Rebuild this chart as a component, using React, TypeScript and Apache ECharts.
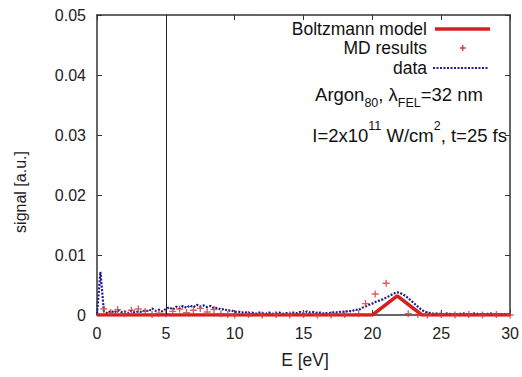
import React, { useEffect, useRef } from "react";
import * as echarts from "echarts";

// Boltzmann model (E [eV], signal)
const boltzE = [0, 20.0, 21.8, 23.6, 30];
const boltzV = [0, 0, 0.0032, 0, 0];

// MD results (E [eV], signal)
const mdE = [0.5, 1, 1.5, 2, 2.5, 3, 3.5, 4, 4.5, 5, 5.5, 6, 6.5, 7, 7.5, 8, 8.5, 9, 9.5, 10, 11, 12, 13, 14, 15, 16, 17, 18, 19, 19.5, 20.2, 21.0, 22.6, 23.3, 24, 25, 26, 27, 28, 29, 30];
const mdV = [0.0010, 0.0004, 0.0009, 0.0002, 0.0008, 0.0010, 0.0006, 0.0001, 0.0003, 0.0002, 0.0006, 0.0010, 0.0004, 0.0008, 0.0011, 0.0005, 0.0009, 0.0002, 0.0001, 0.0000, 0.0001, 0.0000, 0.0001, 0.0000, 0.0001, 0.0000, 0.0000, 0.0001, 0.0002, 0.0019, 0.0035, 0.0053, 0.0002, 0.0001, 0.0000, 0.0001, 0.0000, 0.0001, 0.0000, 0.0001, 0.0000];

// data (E [eV], signal)
const dataE = [0, 0.25, 0.5, 0.75, 1, 1.25, 1.5, 1.75, 2, 2.25, 2.5, 2.75, 3, 3.25, 3.5, 3.75, 4, 4.25, 4.5, 4.75, 5, 5.25, 5.5, 5.75, 6, 6.25, 6.5, 6.75, 7, 7.25, 7.5, 7.75, 8, 8.25, 8.5, 8.75, 9, 9.25, 9.5, 9.75, 10, 10.25, 10.5, 10.75, 11, 11.25, 11.5, 11.75, 12, 12.25, 12.5, 12.75, 13, 13.25, 13.5, 13.75, 14, 14.25, 14.5, 14.75, 15, 15.25, 15.5, 15.75, 16, 16.25, 16.5, 16.75, 17, 17.25, 17.5, 17.75, 18, 18.25, 18.5, 18.75, 19, 19.25, 19.5, 19.75, 20, 20.25, 20.5, 20.75, 21, 21.25, 21.5, 21.75, 22, 22.25, 22.5, 22.75, 23, 23.25, 23.5, 23.75, 24, 24.25, 24.5, 24.75, 25, 25.25, 25.5, 25.75, 26, 26.25, 26.5, 26.75, 27, 27.25, 27.5, 27.75, 28, 28.25, 28.5, 28.75, 29, 29.25, 29.5, 29.75, 30];
const dataV = [0.0002, 0.0072, 0.0006, 0.0003, 0.0007, 0.0004, 0.0008, 0.0005, 0.0006, 0.0003, 0.0007, 0.0004, 0.0006, 0.0005, 0.0008, 0.0006, 0.0011, 0.0007, 0.0009, 0.0006, 0.0010, 0.0013, 0.0009, 0.0014, 0.0011, 0.0015, 0.0012, 0.0016, 0.0013, 0.0017, 0.0014, 0.0016, 0.0013, 0.0015, 0.0011, 0.0012, 0.0009, 0.0010, 0.0007, 0.0008, 0.0005, 0.0006, 0.0004, 0.0005, 0.0003, 0.0004, 0.0002, 0.0004, 0.0003, 0.0002, 0.0004, 0.0002, 0.0003, 0.0004, 0.0002, 0.0003, 0.0002, 0.0004, 0.0003, 0.0005, 0.0003, 0.0006, 0.0004, 0.0005, 0.0003, 0.0004, 0.0002, 0.0004, 0.0003, 0.0005, 0.0004, 0.0006, 0.0005, 0.0007, 0.0006, 0.0009, 0.0008, 0.0012, 0.0014, 0.0017, 0.0019, 0.0022, 0.0024, 0.0026, 0.0029, 0.0032, 0.0035, 0.0038, 0.0037, 0.0034, 0.0030, 0.0025, 0.0020, 0.0015, 0.0010, 0.0006, 0.0004, 0.0003, 0.0002, 0.0003, 0.0001, 0.0002, 0.0003, 0.0001, 0.0002, 0.0001, 0.0003, 0.0002, 0.0001, 0.0002, 0.0003, 0.0001, 0.0002, 0.0001, 0.0003, 0.0002, 0.0001, 0.0002, 0.0001, 0.0002, 0.0001];

const xTicks = { min: 0, max: 30, interval: 5 };
const yTicks = { min: 0, max: 0.05, interval: 0.01 };
const legendNames = ["Boltzmann model", "MD results", "data"];
const xName = "E [eV]";
const yName = "signal [a.u.]";

const FONT = "Liberation Sans, Arial, Helvetica, sans-serif";
const RED = "#d61f1f";
const MDRED = "#d23a3a";
const BLUE = "#1c1c8c";
const AXIS = "#333333";
const PLUS = "path://M4,0L6,0L6,4L10,4L10,6L6,6L6,10L4,10L4,6L0,6L0,4L4,4Z";

export default function App() {
  const ref = useRef<HTMLDivElement>(null);
  useEffect(() => {
    if (!ref.current) return;
    const chart = echarts.init(ref.current, undefined, { renderer: "svg" });
    const zip = (a: number[], b: number[]) => a.map((x, i) => [x, b[i]]);
    const baseAxis = {
      axisLine: { show: true, onZero: false, lineStyle: { color: AXIS, width: 1.5 } },
      axisTick: { show: true, inside: true, length: 5, lineStyle: { color: AXIS, width: 1 } },
      splitLine: { show: false },
    };
    chart.setOption({
      animation: false,
      backgroundColor: "#ffffff",
      textStyle: { fontFamily: FONT },
      grid: { left: 97, right: 10, top: 15, bottom: 62, containLabel: false },
      xAxis: [
        {
          type: "value",
          ...xTicks,
          position: "bottom",
          ...baseAxis,
          axisLabel: { show: true, color: "#222", fontSize: 16, margin: 10, fontFamily: FONT },
        },
        {
          type: "value",
          ...xTicks,
          position: "top",
          ...baseAxis,
          axisLabel: { show: false },
        },
      ],
      yAxis: [
        {
          type: "value",
          ...yTicks,
          position: "left",
          ...baseAxis,
          axisLabel: {
            show: true,
            color: "#222",
            fontSize: 16,
            margin: 11,
            fontFamily: FONT,
            formatter: (v: number) => (v === 0 ? "0" : v.toFixed(2)),
          },
        },
        {
          type: "value",
          ...yTicks,
          position: "right",
          ...baseAxis,
          axisLabel: { show: false },
        },
      ],
      series: [
        {
          name: legendNames[2],
          type: "line",
          data: zip(dataE, dataV),
          showSymbol: false,
          symbol: "none",
          lineStyle: { color: BLUE, width: 2.2, type: [2, 1.5] },
          z: 2,
        },
        {
          name: legendNames[0],
          type: "line",
          data: zip(boltzE, boltzV),
          showSymbol: false,
          symbol: "none",
          lineStyle: { color: RED, width: 3.5 },
          z: 3,
          markLine: {
            silent: true,
            symbol: "none",
            label: { show: false },
            lineStyle: { color: "#222", width: 1, type: "solid" },
            data: [{ xAxis: 5 }],
          },
        },
        {
          name: legendNames[1],
          type: "scatter",
          data: zip(mdE, mdV),
          symbol: PLUS,
          symbolSize: 7,
          itemStyle: { color: MDRED },
          z: 4,
        },
      ],
      graphic: [
        // legend
        { type: "text", x: 427, y: 29, style: { text: legendNames[0], font: `17.5px ${FONT}`, fill: "#111", align: "right", verticalAlign: "middle" } },
        { type: "line", shape: { x1: 435, y1: 29, x2: 490, y2: 29 }, style: { stroke: RED, lineWidth: 3.5 } },
        { type: "text", x: 427, y: 48, style: { text: legendNames[1], font: `17.5px ${FONT}`, fill: "#111", align: "right", verticalAlign: "middle" } },
        { type: "polygon", shape: { points: [[462, 45], [463.4, 45], [463.4, 47.3], [465.7, 47.3], [465.7, 48.7], [463.4, 48.7], [463.4, 51], [462, 51], [462, 48.7], [459.7, 48.7], [459.7, 47.3], [462, 47.3]] }, style: { fill: MDRED } },
        { type: "text", x: 427, y: 68, style: { text: legendNames[2], font: `17.5px ${FONT}`, fill: "#111", align: "right", verticalAlign: "middle" } },
        { type: "line", shape: { x1: 433, y1: 68, x2: 489, y2: 68 }, style: { stroke: BLUE, lineWidth: 2.2, lineDash: [2, 1.5] } },
        // annotation
        {
          type: "text",
          x: 483,
          y: 85,
          style: {
            text: "{n|Argon}{s|80}{n|, λ}{s|FEL}{n|=32 nm}",
            align: "right",
            verticalAlign: "top",
            fill: "#111",
            rich: {
              n: { fontSize: 18.5, lineHeight: 20, verticalAlign: "top", fontFamily: FONT, fill: "#111" },
              s: { fontSize: 12.5, lineHeight: 12, verticalAlign: "top", padding: [11, 0, 0, 0], fontFamily: FONT, fill: "#111" },
            },
          },
        },
        {
          type: "text",
          x: 507,
          y: 119,
          style: {
            text: "{n|I=2x10}{p|11}{n| W/cm}{p|2}{n|, t=25 fs}",
            align: "right",
            verticalAlign: "top",
            fill: "#111",
            rich: {
              n: { fontSize: 18.5, lineHeight: 20, verticalAlign: "top", padding: [7, 0, 0, 0], fontFamily: FONT, fill: "#111" },
              p: { fontSize: 12.5, lineHeight: 12, verticalAlign: "top", fontFamily: FONT, fill: "#111" },
            },
          },
        },
        // axis names
        { type: "text", x: 305, y: 360, style: { text: xName, font: `17.5px ${FONT}`, fill: "#222", align: "center", verticalAlign: "middle" } },
        { type: "text", x: 20, y: 192, rotation: Math.PI / 2, style: { text: yName, font: `16px ${FONT}`, fill: "#222", align: "center", verticalAlign: "middle" } },
      ],
    });
    return () => chart.dispose();
  }, []);
  return <div ref={ref} style={{ position: "fixed", left: 0, top: 0, width: 522, height: 377 }} />;
}
